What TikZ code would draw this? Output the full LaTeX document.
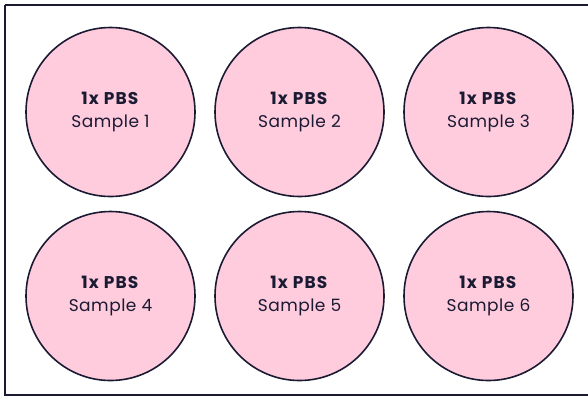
\documentclass[tikz,border=0pt]{standalone}
\usepackage{fontspec}
\setmainfont{Poppins}[LetterSpace=3,BoldFeatures={LetterSpace=7}]
\definecolor{navy}{HTML}{1A1A33}
\definecolor{wellpink}{HTML}{FFCCDD}
\begin{document}
\begin{tikzpicture}[x=1pt,y=-1pt,
  well/.style={circle,draw=navy,line width=1.6pt,fill=wellpink,minimum size=169pt,inner sep=0pt,
    text=navy,align=center,font=\fontsize{17}{22.5}\selectfont}]
\useasboundingbox (0,0) rectangle (588,397);
\draw[navy,line width=2pt] (5,5) -- (600,5) (5,5) -- (5,395) -- (600,395);
\node[well] (w1) at (110.5,112) {\textbf{1x PBS}\\Sample 1};
\node[well] (w2) at (299.5,112) {\textbf{1x PBS}\\Sample 2};
\node[well] (w3) at (488.5,112) {\textbf{1x PBS}\\Sample 3};
\node[well] (w4) at (110.5,296) {\textbf{1x PBS}\\Sample 4};
\node[well] (w5) at (299.5,296) {\textbf{1x PBS}\\Sample 5};
\node[well] (w6) at (488.5,296) {\textbf{1x PBS}\\Sample 6};
\end{tikzpicture}
\end{document}
